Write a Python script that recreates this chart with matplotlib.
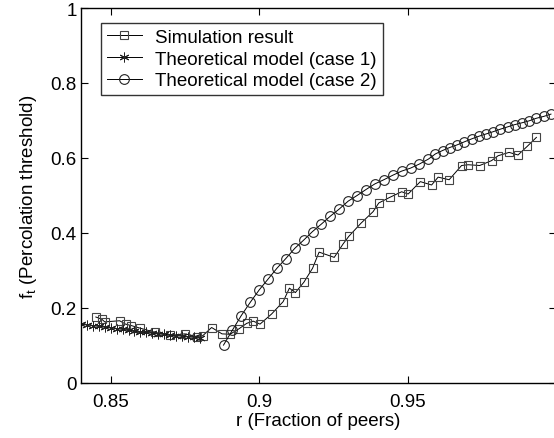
import matplotlib
matplotlib.use("Agg")
import matplotlib.pyplot as plt

# simulation result (squares)
sim_r = [0.8450, 0.8470, 0.8480, 0.8530, 0.8550, 0.8570, 0.8600, 0.8650, 0.8700, 0.8750,
         0.8790, 0.8810, 0.8840, 0.8875, 0.8902, 0.8933, 0.8958, 0.8980, 0.9003, 0.9042,
         0.9081, 0.9102, 0.9122, 0.9151, 0.9180, 0.9202, 0.9253, 0.9283, 0.9302, 0.9343,
         0.9384, 0.9403, 0.9440, 0.9480, 0.9502, 0.9543, 0.9581, 0.9603, 0.9640, 0.9682,
         0.9704, 0.9743, 0.9783, 0.9805, 0.9842, 0.9872, 0.9903, 0.9934]
sim_f = [0.176, 0.170, 0.163, 0.166, 0.157, 0.153, 0.146, 0.135, 0.127, 0.131,
         0.124, 0.126, 0.148, 0.131, 0.130, 0.145, 0.159, 0.165, 0.157, 0.184,
         0.217, 0.253, 0.241, 0.269, 0.306, 0.349, 0.335, 0.371, 0.391, 0.426,
         0.457, 0.480, 0.495, 0.510, 0.504, 0.537, 0.528, 0.549, 0.542, 0.580,
         0.582, 0.580, 0.593, 0.606, 0.615, 0.608, 0.631, 0.655]

# theoretical model, case 1 (asterisks)
c1_r = [0.840, 0.842, 0.844, 0.846, 0.848, 0.850, 0.852, 0.854, 0.856, 0.858, 0.860,
        0.862, 0.864, 0.866, 0.868, 0.870, 0.872, 0.874, 0.876, 0.878, 0.880]
c1_f = [0.157, 0.155, 0.153, 0.151, 0.149, 0.147, 0.145, 0.143, 0.141, 0.139, 0.137,
        0.135, 0.133, 0.131, 0.130, 0.128, 0.126, 0.125, 0.123, 0.122, 0.120]

# theoretical model, case 2 (circles)
c2_r = [0.888, 0.891, 0.894, 0.897, 0.900, 0.903, 0.906, 0.909, 0.912, 0.915,
        0.918, 0.921, 0.924, 0.927, 0.930, 0.933, 0.936, 0.939, 0.942, 0.945,
        0.948, 0.951, 0.954, 0.957, 0.9594, 0.9618, 0.9642, 0.9667, 0.9691, 0.9716,
        0.9740, 0.9764, 0.9788, 0.9813, 0.9837, 0.9861, 0.9886, 0.9909, 0.9934, 0.9959,
        0.9983]
c2_f = [0.101, 0.141, 0.180, 0.215, 0.248, 0.277, 0.306, 0.332, 0.359, 0.381,
        0.404, 0.424, 0.445, 0.464, 0.485, 0.500, 0.516, 0.531, 0.542, 0.554,
        0.565, 0.573, 0.584, 0.597, 0.611, 0.620, 0.628, 0.635, 0.643, 0.651,
        0.658, 0.664, 0.670, 0.677, 0.683, 0.689, 0.694, 0.699, 0.706, 0.711,
        0.717]

plt.rcParams["font.family"] = ["Liberation Sans", "DejaVu Sans"]
plt.rcParams["mathtext.fontset"] = "custom"
plt.rcParams["mathtext.rm"] = "Liberation Sans"
plt.rcParams["mathtext.it"] = "Liberation Sans"

fs = 13.5
fig = plt.figure(figsize=(5.54, 4.39), dpi=100)
# right spine sits just past the image edge, as in the cropped original
ax = fig.add_axes([81 / 554, 55 / 439, 475 / 554, 375 / 439])

ax.plot(sim_r, sim_f, "-", color="black", lw=0.7, marker="s", ms=6,
        mfc="none", mec="#444444", mew=0.8, label="Simulation result")
ax.plot(c1_r, c1_f, "-", color="black", lw=0.7, marker=(6, 2, 0), ms=7,
        mfc="none", mec="#222222", mew=0.7, label="Theoretical model (case 1)")
ax.plot(c2_r, c2_f, "-", color="black", lw=0.7, marker="o", ms=7,
        mfc="none", mec="#222222", mew=0.8, label="Theoretical model (case 2)")

ax.set_xlim(0.84, 1.0)
ax.set_ylim(0, 1)
ax.set_xticks([0.85, 0.9, 0.95])
ax.set_xticklabels(["0.85", "0.9", "0.95"])
ax.set_yticks([0, 0.2, 0.4, 0.6, 0.8, 1])
ax.set_yticklabels(["0", "0.2", "0.4", "0.6", "0.8", "1"])
ax.tick_params(direction="in", top=True, right=True, length=5, width=0.8,
               labelsize=fs)
ax.tick_params(axis="x", pad=7)
ax.tick_params(axis="y", pad=3)
for s in ax.spines.values():
    s.set_linewidth(1.0)

ax.set_xlabel("r (Fraction of peers)", fontsize=fs, labelpad=2)
ax.set_ylabel(r"f$_{\rm t}$ (Percolation threshold)", fontsize=fs, labelpad=8)

leg = ax.legend(loc="upper left", bbox_to_anchor=(20 / 475, 1 - 15 / 375),
                fontsize=fs, frameon=True, fancybox=False, borderaxespad=0,
                handlelength=1.9, handletextpad=0.7, labelspacing=0.25,
                borderpad=0.3)
leg.get_frame().set_edgecolor("black")
leg.get_frame().set_linewidth(1.0)

fig.savefig("out.png", dpi=100, facecolor="white")
